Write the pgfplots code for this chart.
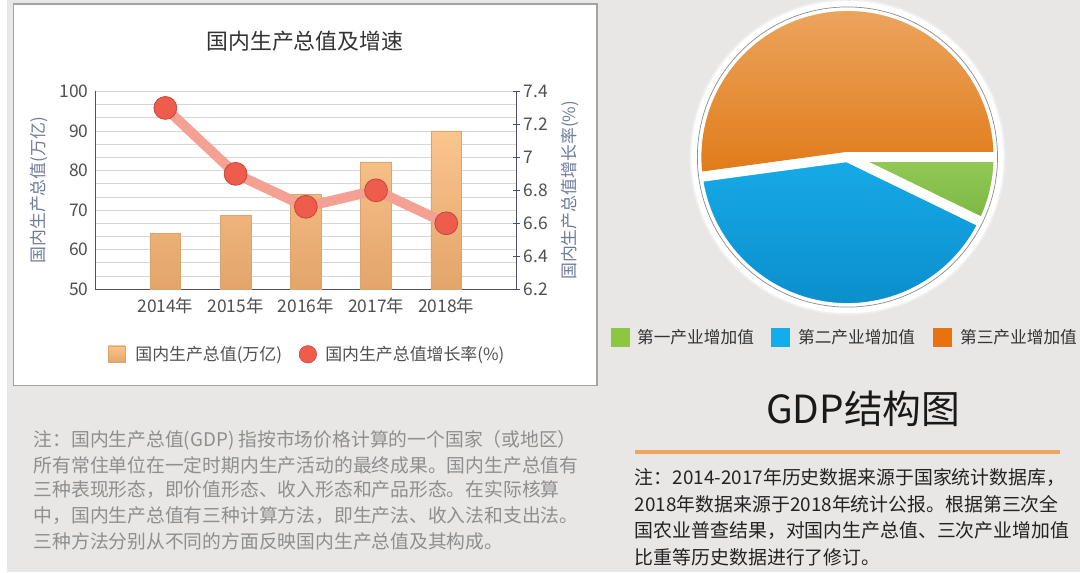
\documentclass[border=0pt]{standalone}
\usepackage{pgfplots}
\pgfplotsset{compat=1.18}
\usepackage{pgfplotstable}
\usepackage{fontspec}
\setmainfont{Noto Sans CJK SC}
\newcommand\fs[2]{\fontsize{#1}{#2}\selectfont}
\definecolor{bgcol}{HTML}{E9E7E6}
\definecolor{panelborder}{HTML}{A3A3A3}
\definecolor{axiscol}{HTML}{4B5068}
\definecolor{gridcol}{HTML}{D6D6D6}
\definecolor{labcol}{HTML}{6E7C9C}
\definecolor{tickcol}{HTML}{505050}
\definecolor{titlecol}{HTML}{333333}
\definecolor{bartop}{HTML}{FAC58E}
\definecolor{barbot}{HTML}{E3A56A}
\definecolor{baredge}{HTML}{D9A46E}
\definecolor{linecol}{HTML}{F4A092}
\definecolor{markfill}{HTML}{EE5C4B}
\definecolor{markedge}{HTML}{C4473A}
\definecolor{orangeA}{HTML}{ECA55E}
\definecolor{orangeB}{HTML}{E07A18}
\definecolor{blueA}{HTML}{17AAE8}
\definecolor{blueB}{HTML}{0A8CCA}
\definecolor{greenA}{HTML}{93C958}
\definecolor{greenB}{HTML}{7AB742}
\definecolor{legGreen}{HTML}{8DC63F}
\definecolor{legBlue}{HTML}{12AEEB}
\definecolor{legOrange}{HTML}{E8730E}
\definecolor{notegray}{HTML}{8E8E8E}
\definecolor{notedark}{HTML}{222222}
\definecolor{rulecol}{HTML}{F0A55A}

\pgfplotstableread{
x gdp
0 64.1
1 68.6
2 74.0
3 82.0
4 90.0
}\gdptable
\pgfplotstableread{
x rate
0 7.3
1 6.9
2 6.7
3 6.8
4 6.6
}\ratetable
\pgfplotstableread{
sector share
1 7.2
2 40.7
3 52.2
}\pietable

\begin{document}
\pgfplotstablegetelem{0}{share}\of\pietable \let\sA\pgfplotsretval
\pgfplotstablegetelem{1}{share}\of\pietable \let\sB\pgfplotsretval
\pgfplotstablegetelem{2}{share}\of\pietable \let\sC\pgfplotsretval
\pgfmathsetmacro\tot{\sA+\sB+\sC}
\pgfmathsetmacro\aC{\sC/\tot*360}
\pgfmathsetmacro\aB{\aC+\sB/\tot*360}
\begin{tikzpicture}[x=1pt,y=1pt]
\useasboundingbox (0,0) rectangle (1080,-576);
\fill[bgcol] (0,0) rectangle (1080,-576);
% left panel
\filldraw[fill=white, draw=panelborder, line width=1.5pt] (7,-4) rectangle (594,-388);
\node[font=\fs{22}{26}, text=titlecol, inner sep=0pt] at (300,-42) {国内生产总值及增速};

\begin{axis}[
  at={(89pt,-291pt)}, anchor=south west, scale only axis,
  width=424pt, height=199pt,
  xmin=-1, xmax=5, ymin=50, ymax=100,
  axis x line*=bottom, axis y line*=left,
  axis line style={axiscol, line width=1.2pt},
  xtick={0,1,2,3,4},
  xticklabels={2014年,2015年,2016年,2017年,2018年},
  ytick={50,60,70,80,90,100},
  minor y tick num=2,
  ymajorgrids, yminorgrids,
  grid style={gridcol, line width=0.8pt},
  minor grid style={gridcol, line width=0.8pt},
  major tick length=0pt, minor tick length=0pt,
  tick label style={font=\fs{17.5}{17.5}, text=tickcol},
  xticklabel style={yshift=-5pt},
  yticklabel style={xshift=-3pt},
  /pgf/number format/assume math mode=true,
  every axis y label/.style={at={(axis description cs:-0.133,0.5)}, rotate=90, anchor=center},
  ylabel={国内生产总值(万亿)},
  ylabel style={font=\fs{17}{17}, text=labcol},
]
\addplot[ybar, bar width=31pt, draw=baredge, line width=0.6pt, top color=bartop, bottom color=barbot]
  table[x=x, y=gdp]{\gdptable};
\end{axis}

\begin{axis}[
  at={(89pt,-291pt)}, anchor=south west, scale only axis,
  width=424pt, height=199pt,
  xmin=-1, xmax=5, ymin=6.2, ymax=7.4,
  axis y line*=right, axis x line=none,
  axis line style={axiscol, line width=1.2pt},
  ytick={6.2,6.4,6.6,6.8,7,7.2,7.4},
  tick align=center, major tick length=8pt,
  tick style={axiscol, line width=1.2pt},
  tick label style={font=\fs{17.5}{17.5}, text=tickcol},
  /pgf/number format/assume math mode=true,
  every axis y label/.style={at={(axis description cs:1.128,0.5)}, rotate=90, anchor=center},
  ylabel={国内生产总值增长率(\%)},
  ylabel style={font=\fs{17}{17}, text=labcol},
  legend columns=2,
  legend style={at={(axis description cs:0.0307,-0.329)}, anchor=west,
    draw=none, fill=none, inner sep=0pt, outer sep=0pt,
    font=\fs{17}{20}, text=tickcol, nodes={inner sep=0pt},
    /tikz/column 1/.style={column sep=10pt},
    /tikz/column 2/.style={column sep=17pt},
    /tikz/column 3/.style={column sep=8.5pt}},
]
\addlegendimage{legend image code/.code={\path[draw=baredge, line width=0.5pt, top color=bartop, bottom color=barbot] (0pt,-8.5pt) rectangle (17pt,8.5pt);}}
\addlegendentry{国内生产总值(万亿)}
\addplot[line width=10pt, color=linecol, line join=round, line cap=round, forget plot]
  table[x=x, y=rate]{\ratetable};
\addplot[only marks, mark=*, mark size=11.5pt,
  mark options={fill=markfill, draw=markedge, line width=0.8pt},
  legend image code/.code={\filldraw[fill=markfill, draw=markedge, line width=0.5pt] (8.8pt,0pt) circle[radius=8.8pt];}]
  table[x=x, y=rate]{\ratetable};
\addlegendentry{国内生产总值增长率(\%)}
\end{axis}

% pie
\begin{axis}[
  at={(846pt,-158pt)}, anchor=center, scale only axis,
  width=320pt, height=320pt,
  xmin=-160, xmax=160, ymin=-160, ymax=160,
  hide axis, clip=false,
  legend columns=3,
  legend style={at={(axis description cs:-0.244,-0.0656)}, anchor=west,
    draw=none, fill=none, inner sep=0pt, outer sep=0pt,
    font=\fs{16.8}{20}, text=titlecol, nodes={inner sep=0pt},
    /tikz/column 1/.style={column sep=8pt},
    /tikz/column 2/.style={column sep=17pt},
    /tikz/column 3/.style={column sep=9pt},
    /tikz/column 4/.style={column sep=18pt},
    /tikz/column 5/.style={column sep=9pt}},
]
\addlegendimage{legend image code/.code={\fill[legGreen] (0pt,-9pt) rectangle (18pt,9pt);}}
\addlegendentry{第一产业增加值}
\addlegendimage{legend image code/.code={\fill[legBlue] (0pt,-9pt) rectangle (18pt,9pt);}}
\addlegendentry{第二产业增加值}
\addlegendimage{legend image code/.code={\fill[legOrange] (0pt,-9pt) rectangle (18pt,9pt);}}
\addlegendentry{第三产业增加值}
\fill[black!6] (axis cs:0,0) circle[radius=159pt];
\fill[white] (axis cs:0,0) circle[radius=157pt];
\path[top color=orangeA, bottom color=orangeB, draw=white, line width=10pt, line join=round]
  (axis cs:0,0) -- (axis cs:152,0) arc[start angle=0, end angle=\aC, radius=152pt] -- cycle;
\path[top color=blueA, bottom color=blueB, draw=white, line width=10pt, line join=round]
  (axis cs:0,0) -- (axis cs:{152*cos(\aC)},{152*sin(\aC)}) arc[start angle=\aC, end angle=\aB, radius=152pt] -- cycle;
\path[top color=greenA, bottom color=greenB, draw=white, line width=10pt, line join=round]
  (axis cs:0,0) -- (axis cs:{152*cos(\aB)},{152*sin(\aB)}) arc[start angle=\aB, end angle=360, radius=152pt] -- cycle;
\draw[black!45, line width=0.7pt] (axis cs:0,0) circle[radius=151pt];
\end{axis}

\node[font=\fs{39}{44}, text=black!90, inner sep=0pt] at (862,-411) {GDP结构图};
\draw[rulecol, line width=3.5pt] (632,-455) -- (1060,-455);

\begin{scope}[every node/.style={anchor=west, inner sep=0pt, font=\fs{19}{22}, text=notedark}]
\node at (632,-480) {注：2014-2017年历史数据来源于国家统计数据库，};
\node at (632,-507) {2018年数据来源于2018年统计公报。根据第三次全};
\node at (632,-534) {国农业普查结果，对国内生产总值、三次产业增加值};
\node at (632,-561) {比重等历史数据进行了修订。};
\end{scope}

\begin{scope}[every node/.style={anchor=west, inner sep=0pt, font=\fs{18.9}{22}, text=notegray}]
\node at (27,-443) {注：国内生产总值(GDP) 指按市场价格计算的一个国家（或地区）};
\node at (27,-468) {所有常住单位在一定时期内生产活动的最终成果。国内生产总值有};
\node at (27,-493) {三种表现形态，即价值形态、收入形态和产品形态。在实际核算};
\node at (27,-519) {中，国内生产总值有三种计算方法，即生产法、收入法和支出法。};
\node at (27,-545) {三种方法分别从不同的方面反映国内生产总值及其构成。};
\end{scope}
\end{tikzpicture}
\end{document}
